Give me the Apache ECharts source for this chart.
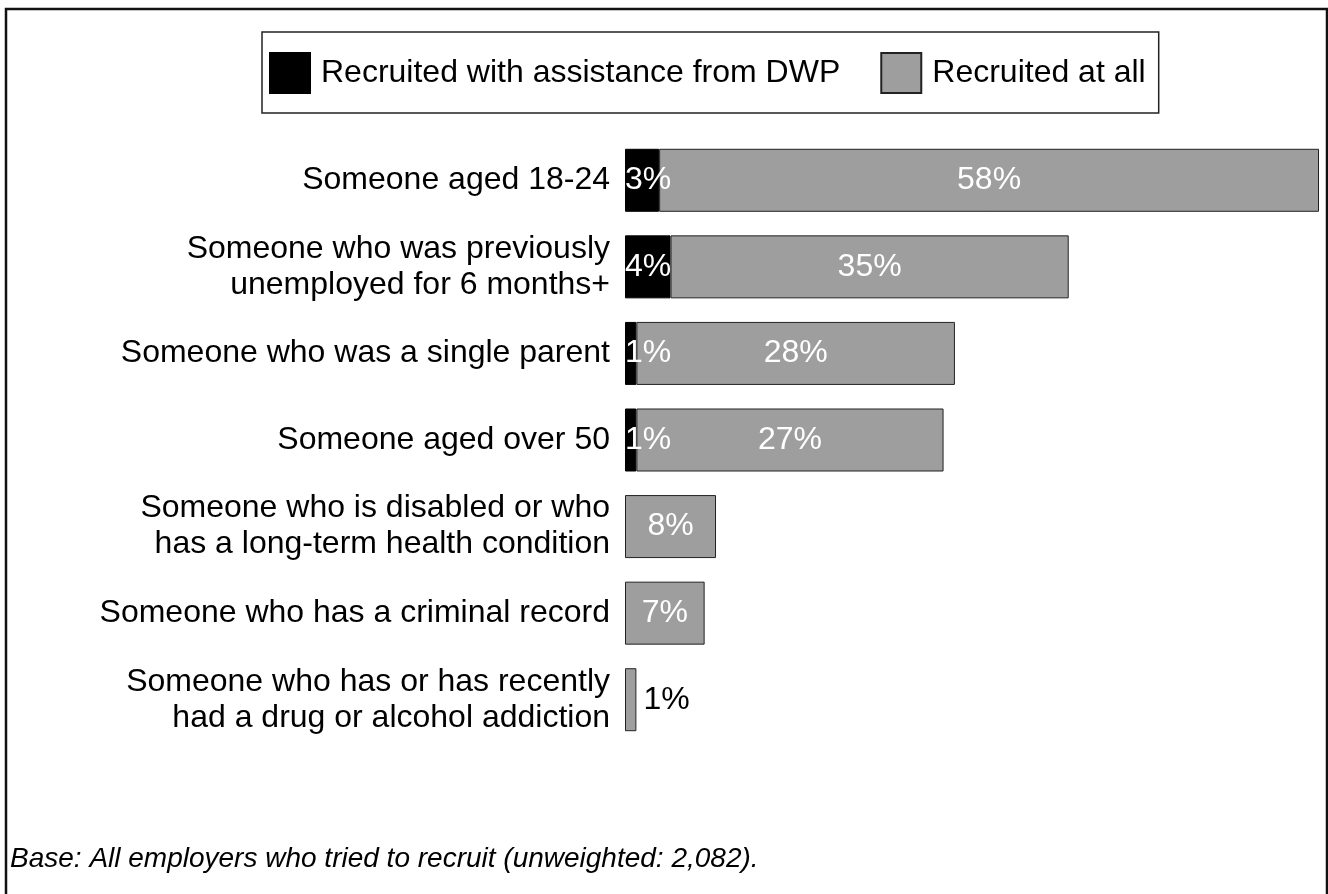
<!DOCTYPE html>
<html>
<head>
<meta charset="utf-8">
<title>Recruitment of disadvantaged groups</title>
<script src="https://cdn.jsdelivr.net/npm/echarts@6/dist/echarts.min.js"></script>
<style>
  html, body { margin: 0; padding: 0; background: #fff; }
  #chart { width: 1328px; height: 894px; }
</style>
</head>
<body>
<div id="chart"></div>
<script>
// Groups of people recruited, top to bottom
const categories = [
  'Someone aged 18-24',
  'Someone who was previously\nunemployed for 6 months+',
  'Someone who was a single parent',
  'Someone aged over 50',
  'Someone who is disabled or who\nhas a long-term health condition',
  'Someone who has a criminal record',
  'Someone who has or has recently\nhad a drug or alcohol addiction'
];

// Percent of employers (stacked: DWP-assisted share first, then recruited at all)
const dwpAssisted = [3, 4, 1, 1, 0, 0, 0];
const recruitedAtAll = [58, 35, 28, 27, 8, 7, 1];

const seriesNames = ['Recruited with assistance from DWP', 'Recruited at all'];
const footnote = 'Base: All employers who tried to recruit (unweighted: 2,082).';

const FONT = '"Liberation Sans", Arial, Helvetica, sans-serif';
const GREY = '#9e9e9e';

const chart = echarts.init(document.getElementById('chart'), null, { renderer: 'canvas' });

const dwpData = dwpAssisted.map(v => ({
  value: v,
  label: { show: v > 0 },
  itemStyle: { borderWidth: v > 0 ? 1 : 0 }
}));

// Very short bars carry their label outside, in black
const allData = recruitedAtAll.map(v => (
  v < 3
    ? { value: v, label: { position: 'right', distance: 7, color: '#000' } }
    : { value: v }
));

chart.setOption({
  animation: false,
  backgroundColor: '#fff',
  textStyle: { fontFamily: FONT },
  legend: {
    left: 262,
    top: 32,
    orient: 'horizontal',
    padding: [20, 13, 19, 7],
    itemWidth: 40,
    itemHeight: 40,
    itemGap: 40,
    borderColor: '#222',
    borderWidth: 1.5,
    icon: 'rect',
    textStyle: { fontSize: 32, color: '#000', fontFamily: FONT, padding: [0, 0, 0, 6] },
    data: seriesNames
  },
  grid: { left: 625, top: 137, width: 694, height: 606, containLabel: false },
  xAxis: {
    type: 'value',
    min: 0,
    max: 61,
    show: false
  },
  yAxis: {
    type: 'category',
    inverse: true,
    data: categories,
    axisLine: { show: false },
    axisTick: { show: false },
    splitLine: { show: false },
    axisLabel: {
      fontSize: 32,
      lineHeight: 36,
      color: '#000',
      margin: 15,
      fontFamily: FONT
    }
  },
  series: [
    {
      name: seriesNames[0],
      type: 'bar',
      stack: 'total',
      barWidth: 63,
      data: dwpData,
      itemStyle: { color: '#000', borderColor: '#000', borderWidth: 1 },
      label: {
        show: true,
        position: 'insideLeft',
        distance: 0,
        formatter: '{c}%',
        color: '#fff',
        fontSize: 32,
        fontFamily: FONT
      }
    },
    {
      name: seriesNames[1],
      type: 'bar',
      stack: 'total',
      barWidth: 63,
      data: allData,
      itemStyle: { color: GREY, borderColor: '#222', borderWidth: 1 },
      label: {
        show: true,
        position: 'inside',
        formatter: '{c}%',
        color: '#fff',
        fontSize: 32,
        fontFamily: FONT
      }
    }
  ],
  graphic: [
    {
      // outer frame: left, top and right edges
      type: 'polyline',
      shape: { points: [[6, 894], [6, 9], [1327, 9], [1327, 894]] },
      style: { fill: null, stroke: '#111', lineWidth: 2.5 },
      silent: true
    },
    {
      type: 'text',
      left: 10,
      top: 845,
      style: {
        text: footnote,
        fontSize: 28,
        fontStyle: 'italic',
        fontFamily: FONT,
        fill: '#000'
      }
    }
  ]
});
</script>
</body>
</html>
